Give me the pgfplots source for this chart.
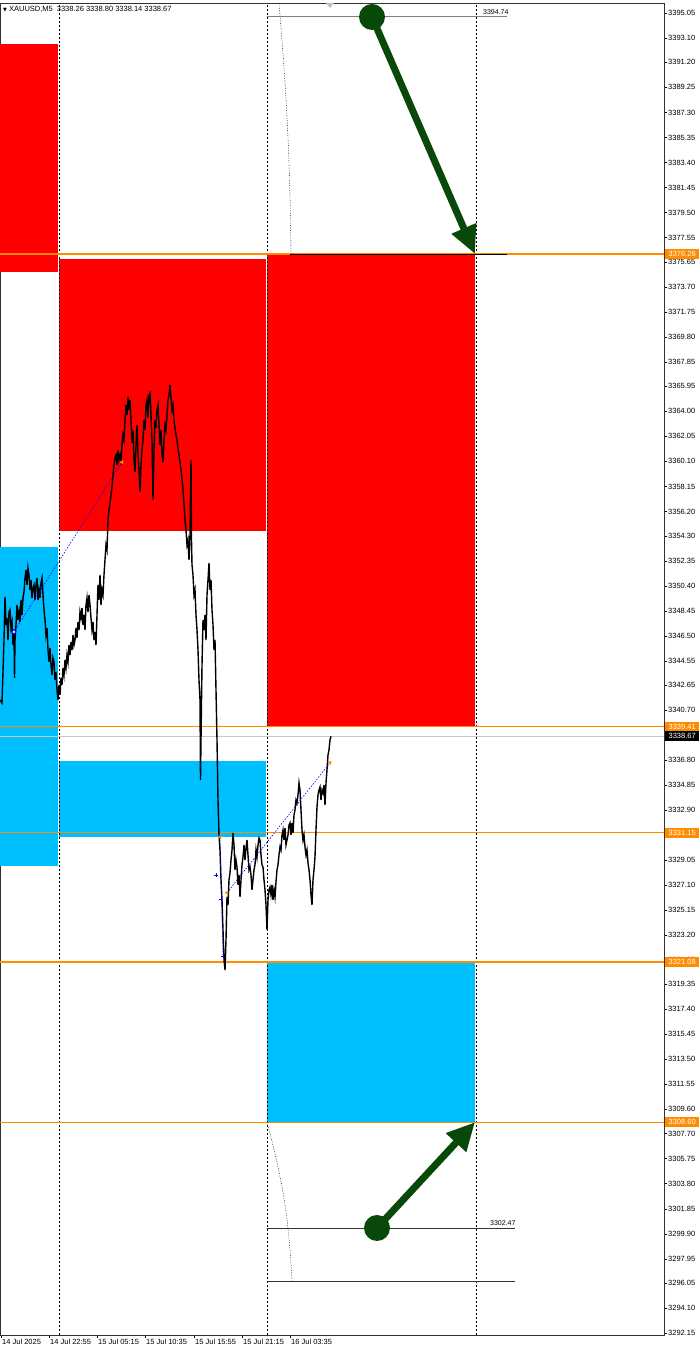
\documentclass[border=0pt]{standalone}
\usepackage{fontspec}
\setmainfont{Liberation Sans}
\newfontfamily\symfont{DejaVu Sans}
\usepackage{pgfplots}
\pgfplotsset{compat=1.18}
\usetikzlibrary{arrows.meta}

\definecolor{mtred}{RGB}{255,0,0}
\definecolor{mtblue}{RGB}{0,191,255}
\definecolor{mtorange}{RGB}{255,140,0}
\definecolor{mtgreen}{RGB}{8,72,8}
\definecolor{bidgray}{RGB}{200,200,200}

\begin{document}
\begin{tikzpicture}[font=\fontsize{7.5}{8.5}\selectfont]
\begin{axis}[
  at={(0pt,0pt)}, anchor=south west,
  scale only axis, width=664pt, height=1332pt,
  xmin=0, xmax=664, ymin=3292.01, ymax=3395.83,
  axis line style={black!80, line width=0.6pt},
  ytick pos=right, xtick pos=bottom,
  tick align=outside, major tick length=3pt,
  tick style={black, line width=0.5pt},
  ytick={3395.05,3393.10,3391.20,3389.25,3387.30,3385.35,3383.40,3381.45,3379.50,3377.55,
         3375.65,3373.70,3371.75,3369.80,3367.85,3365.95,3364.00,3362.05,3360.10,3358.15,
         3356.20,3354.30,3352.35,3350.40,3348.45,3346.50,3344.55,3342.65,3340.70,3338.75,
         3336.80,3334.85,3332.90,3330.95,3329.05,3327.10,3325.15,3323.20,3321.25,3319.35,
         3317.40,3315.45,3313.50,3311.55,3309.60,3307.70,3305.75,3303.80,3301.85,3299.90,
         3297.95,3296.05,3294.10,3292.15},
  /pgf/number format/assume math mode=true,
  y tick label style={/pgf/number format/fixed, /pgf/number format/fixed zerofill,
    /pgf/number format/precision=2, /pgf/number format/1000 sep={},
    anchor=west, inner sep=1pt},
  xtick={1,49,97,145,194,242,290},
  xticklabels={14 Jul 2025,14 Jul 22:55,15 Jul 05:15,15 Jul 10:35,15 Jul 15:55,15 Jul 21:15,16 Jul 03:35},
  x tick label style={anchor=north west, inner sep=0pt, xshift=1pt, yshift=-1pt},
]

% zones
\addplot[fill=mtred, draw=none] coordinates {(0,3392.63) (58,3392.63) (58,3374.86) (0,3374.86)} -- cycle;
\addplot[fill=mtred, draw=none] coordinates {(59,3375.88) (266,3375.88) (266,3354.68) (59,3354.68)} -- cycle;
\addplot[fill=mtred, draw=none] coordinates {(267,3376.26) (475,3376.26) (475,3339.41) (267,3339.41)} -- cycle;
\addplot[fill=mtblue, draw=none] coordinates {(0,3353.43) (58,3353.43) (58,3328.58) (0,3328.58)} -- cycle;
\addplot[fill=mtblue, draw=none] coordinates {(59,3336.75) (266,3336.75) (266,3330.83) (59,3330.83)} -- cycle;
\addplot[fill=mtblue, draw=none] coordinates {(267,3321.08) (475,3321.08) (475,3308.60) (267,3308.60)} -- cycle;

% period separators
\addplot[black, line width=0.5pt, dash pattern=on 2pt off 2pt] coordinates {(59,3292.01) (59,3395.83)};
\addplot[black, line width=0.5pt, dash pattern=on 2pt off 2pt] coordinates {(267,3292.01) (267,3395.83)};
\addplot[black, line width=0.5pt, dash pattern=on 2pt off 2pt] coordinates {(476,3292.01) (476,3395.83)};

% bid line
\addplot[bidgray, line width=0.8pt] coordinates {(0,3338.67) (664,3338.67)};

% orange levels
\addplot[mtorange, line width=1.2pt] coordinates {(0,3376.26) (664,3376.26)};
\addplot[mtorange, line width=1.2pt] coordinates {(0,3339.41) (664,3339.41)};
\addplot[mtorange, line width=1.2pt] coordinates {(0,3331.15) (664,3331.15)};
\addplot[mtorange, line width=1.2pt] coordinates {(0,3321.08) (664,3321.08)};
\addplot[mtorange, line width=1.2pt] coordinates {(0,3308.60) (664,3308.60)};

% short projection lines
\addplot[gray, line width=1pt] coordinates {(267,3394.74) (507,3394.74)};
\addplot[black, line width=0.6pt] coordinates {(290,3376.26) (507,3376.26)};
\addplot[black!80, line width=0.6pt] coordinates {(267,3300.35) (515,3300.35)};
\addplot[black!80, line width=0.6pt] coordinates {(267,3296.22) (515,3296.22)};

% price (close line)
\addplot[black, line width=1.4pt] coordinates {
(0,3341.51) (2,3341.27) (4,3346.18) (5,3349.53) (6,3347.35) (7,3347.90) (8,3346.18) (9,3348.36)
(10,3348.52) (11,3347.12) (12,3347.58) (13,3345.79) (14,3346.81) (14.5,3343.22) (15,3346.18)
(16,3347.35) (17,3348.91) (18,3347.74) (19,3348.36) (20,3347.58) (21,3349.30) (22,3348.13)
(23,3349.46) (24,3349.92) (25,3351.01) (26,3351.64) (27,3350.47) (28,3351.79) (29,3351.25)
(30,3350.08) (31,3350.86) (32,3349.46) (33,3350.23) (34,3350.47) (35,3349.30) (36,3350.47)
(37,3351.01) (38,3349.30) (39,3350.08) (40,3349.46) (41,3350.62) (42,3351.01) (43,3349.69)
(44,3348.52) (45,3347.74) (46,3346.57) (47,3347.12) (48,3345.40) (49,3344.47) (50,3345.56)
(51,3344.23) (52,3343.45) (53,3344.78) (54,3344.47) (55,3343.06) (56,3343.69) (57,3342.28)
(58,3341.51) (59,3342.67) (60,3341.90) (61,3343.22) (62,3342.67) (63,3344.00) (64,3343.45)
(65,3344.62) (66,3344.00) (67,3345.01) (68,3344.47) (69,3345.79) (70,3345.01) (71,3346.03)
(72,3345.40) (73,3346.57) (74,3345.79) (75,3346.18) (76,3347.12) (77,3346.34) (78,3347.58)
(79,3346.96) (80,3348.36) (81,3347.90) (82,3348.68) (83,3347.35) (84,3348.13) (85,3346.96)
(86,3348.91) (87,3349.46) (88,3348.36) (89,3349.69) (90,3348.91) (91,3347.90) (92,3346.96)
(93,3347.58) (94,3346.18) (95,3346.81) (96,3345.79) (97,3348.13) (98,3350.47) (99,3349.30)
(100,3351.25) (101,3348.91) (102,3350.08) (103,3349.69) (104,3351.25) (105,3352.42) (106,3353.59)
(107,3353.20) (108,3355.53) (109,3356.31) (110,3356.86) (111,3357.48) (112,3358.11) (113,3359.04)
(114,3359.82) (115,3360.37) (116,3360.60) (117,3359.82) (118,3360.99) (119,3360.21) (120,3360.60)
(121,3360.05) (122,3361.38) (123,3362.16) (124,3361.77) (125,3363.33) (126,3364.50) (127,3363.72)
(128,3365.12) (129,3364.11) (130,3364.89) (131,3363.33) (132,3361.54) (133,3362.55) (134,3360.21)
(135,3359.28) (136,3361.38) (137,3362.94) (138,3360.60) (139,3359.43) (140,3357.72) (141,3359.82)
(142,3360.99) (143,3361.77) (144,3363.33) (145,3362.55) (146,3364.50) (147,3364.89) (148,3363.48)
(149,3365.28) (150,3365.43) (151,3363.72) (152,3361.77) (153,3357.09) (154,3360.99) (155,3363.33)
(156,3362.71) (157,3364.11) (158,3364.50) (159,3362.94) (160,3361.38) (161,3362.55) (162,3360.60)
(163,3360.05) (164,3361.77) (165,3362.94) (166,3362.55) (167,3363.72) (168,3364.89) (169,3365.28)
(170,3366.06) (171,3365.04) (172,3364.11) (173,3364.50) (174,3363.33) (175,3362.71) (176,3362.16)
(177,3361.77) (178,3361.15) (179,3360.60) (180,3360.05) (181,3359.43) (182,3358.81) (183,3357.87)
(184,3356.70) (185,3355.53) (186,3354.76) (187,3353.59) (188,3353.98) (189,3352.42) (190,3354.37)
(191,3360.21) (191.5,3353.98) (192,3352.03) (193,3351.25) (194,3349.69) (195,3350.08) (196,3348.13)
(197,3346.96) (198,3345.40) (199,3343.06) (200,3341.51) (200.5,3335.27) (201,3338.39) (202,3344.23)
(203,3347.74) (204,3346.96) (205,3348.13) (206,3346.18) (207,3349.69) (208,3350.86) (209,3352.18)
(210,3350.08) (211,3350.86) (212,3348.52) (213,3347.35) (214,3345.40) (215,3346.18) (216,3342.28)
(217,3338.39) (218,3333.71) (219,3330.98) (220,3329.81) (221,3327.48) (222,3325.92) (223,3323.58)
(224,3321.24) (225,3320.46) (226,3322.80) (227,3326.15) (228,3325.53) (229,3327.48) (230,3328.02)
(231,3329.03) (232,3329.81) (233,3331.14) (234,3330.20) (235,3328.26) (236,3329.03) (237,3328.49)
(238,3327.09) (239,3327.87) (240,3326.15) (241,3327.48) (242,3328.65) (243,3329.27) (244,3330.20)
(245,3329.03) (246,3329.97) (247,3330.59) (248,3329.42) (249,3328.26) (250,3328.49) (251,3327.87)
(252,3326.70) (253,3327.48) (254,3328.26) (255,3328.65) (256,3329.81) (257,3329.27) (258,3330.20)
(259,3330.75) (260,3330.59) (261,3329.42) (262,3328.65) (263,3328.49) (264,3327.48) (265,3326.70)
(266,3325.53) (267,3323.58) (268,3325.92) (269,3326.70) (270,3326.93) (271,3326.31) (272,3327.09)
(273,3325.92) (274,3326.70) (275,3326.15) (276,3327.32) (277,3328.26) (278,3328.65) (279,3329.42)
(280,3330.05) (281,3329.81) (282,3330.98) (283,3331.37) (284,3330.59) (285,3331.53) (286,3330.20)
(287,3330.59) (288,3330.98) (289,3331.76) (290,3331.92) (291,3330.98) (292,3331.92) (293,3331.14)
(294,3332.54) (295,3332.93) (296,3333.71) (297,3333.48) (298,3334.10) (299,3335.04) (300,3334.49)
(301,3332.93) (302,3331.37) (303,3330.59) (304,3330.98) (305,3330.05) (306,3329.42) (307,3329.81)
(308,3328.80) (309,3328.26) (310,3327.48) (311,3326.31) (312,3325.53) (313,3327.48) (314,3328.26)
(315,3329.27) (316,3331.37) (317,3333.17) (318,3334.10) (319,3334.49) (320,3334.72) (321,3333.71)
(322,3334.49) (323,3334.26) (324,3334.88) (325,3333.32) (326,3335.04) (327,3336.05) (328,3337.22)
(329,3337.61) (330,3338.39) (331,3338.67)
};

% zigzag / trend marks
\addplot[blue, line width=0.6pt, dash pattern=on 1.5pt off 1.5pt] coordinates {(14,3346.81) (122,3360.05)};
\addplot[blue, line width=0.6pt, dash pattern=on 1.5pt off 1.5pt] coordinates {(220,3330.83) (223,3321.55)};
\addplot[blue, line width=0.6pt, dash pattern=on 1.5pt off 1.5pt] coordinates {(227,3326.48) (330,3336.61)};
\addplot[only marks, mark=diamond*, mark size=2.5pt, mark options={fill=white, draw=blue, line width=0.8pt}] coordinates {(14,3346.81)};
\addplot[only marks, mark=triangle*, mark size=2pt, mark options={fill=mtorange, draw=mtorange, rotate=90}] coordinates {(122,3360.05) (220,3330.83) (227,3326.48) (330,3336.61)};
\addplot[only marks, mark=+, mark size=2pt, mark options={blue, line width=0.9pt}] coordinates {(216,3327.86) (221,3325.98) (223,3321.55)};

% curved dotted guides
\draw[black, line width=0.4pt, dash pattern=on 1pt off 1.5pt] (axis cs:279,3395.83) to[bend left=2] (axis cs:291,3376.26);
\draw[black, line width=0.4pt, dash pattern=on 1pt off 1.5pt] (axis cs:267,3308.60) to[bend left=6] (axis cs:292,3296.22);

% green arrows
\draw[mtgreen, line width=7pt, -{Triangle[length=28pt, width=25pt]}] (axis cs:372,3394.74) -- (axis cs:475,3376.26);
\fill[mtgreen] (axis cs:372,3394.74) circle[radius=13pt];
\draw[mtgreen, line width=7pt, -{Triangle[length=28pt, width=26pt]}] (axis cs:377,3300.35) -- (axis cs:475,3308.60);
\fill[mtgreen] (axis cs:377,3300.35) circle[radius=13pt];

% shift marker
\fill[gray!50] (axis cs:326,3395.83) -- (axis cs:334,3395.83) -- (axis cs:330,3395.45) -- cycle;

\coordinate (hdr) at (axis cs:3,3395.83);
\coordinate (lA) at (axis cs:483,3394.74);
\coordinate (lB) at (axis cs:490,3300.35);
\coordinate (t1) at (axis cs:664,3376.26);
\coordinate (t2) at (axis cs:664,3339.41);
\coordinate (t3) at (axis cs:664,3338.67);
\coordinate (t4) at (axis cs:664,3331.15);
\coordinate (t5) at (axis cs:664,3321.08);
\coordinate (t6) at (axis cs:664,3308.60);
\end{axis}

\node[anchor=north west, inner sep=0pt, yshift=-3pt, font=\fontsize{7.5}{8}\selectfont] at (hdr)
  {{\symfont\fontsize{5}{6}\selectfont ▼}\ XAUUSD,M5\hspace{4pt}3338.26 3338.80 3338.14 3338.67};
\node[anchor=south west, inner sep=0pt, yshift=2pt, font=\fontsize{7}{8}\selectfont] at (lA) {3394.74};
\node[anchor=south west, inner sep=0pt, yshift=2pt, font=\fontsize{7}{8}\selectfont] at (lB) {3302.47};

\tikzset{tag/.style={anchor=west, xshift=1pt, inner sep=0pt, minimum width=34pt, minimum height=10pt, text=white}}
\node[tag, fill=mtorange] at (t1) {3376.26};
\node[tag, fill=mtorange] at (t2) {3339.41};
\node[tag, fill=black] at (t3) {3338.67};
\node[tag, fill=mtorange] at (t4) {3331.15};
\node[tag, fill=mtorange] at (t5) {3321.08};
\node[tag, fill=mtorange] at (t6) {3308.60};

\pgfresetboundingbox
\path (0pt,-17pt) rectangle (700pt,1335pt);
\end{tikzpicture}
\end{document}
